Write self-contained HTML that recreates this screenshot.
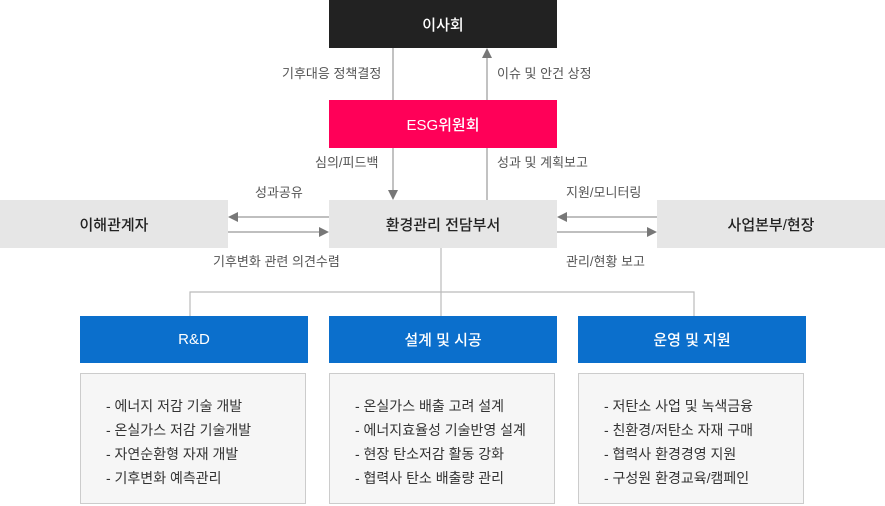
<!DOCTYPE html>
<html><head><meta charset="utf-8"><style>
body{margin:0;width:885px;height:506px;background:#fff;position:relative;overflow:hidden;font-family:"Liberation Sans","Noto Sans CJK KR",sans-serif;}
.b{position:absolute;display:flex;align-items:center;justify-content:center;font-size:15px;font-weight:500;}
.l{position:absolute;font-size:13px;color:#555;white-space:nowrap;line-height:16px;}
.c{position:absolute;top:373px;height:131px;width:226px;background:#f6f6f6;border:1px solid #ccc;box-sizing:border-box;padding-top:20px;padding-left:25px;font-size:14px;color:#333;line-height:24px;}
</style></head><body>
<div class="b" style="left:329px;top:0;width:228px;height:48px;background:#222;color:#fff">이사회</div>
<div class="b" style="left:329px;top:100px;width:228px;height:48px;background:#ff0058;color:#fff">ESG위원회</div>
<div class="b" style="left:329px;top:200px;width:228px;height:48px;background:#e6e6e6;color:#222">환경관리 전담부서</div>
<div class="b" style="left:0;top:200px;width:228px;height:48px;background:#e6e6e6;color:#222">이해관계자</div>
<div class="b" style="left:657px;top:200px;width:228px;height:48px;background:#e6e6e6;color:#222">사업본부/현장</div>
<div class="b" style="left:80px;top:316px;width:228px;height:47px;background:#0b6fcc;color:#fff">R&amp;D</div>
<div class="b" style="left:329px;top:316px;width:228px;height:47px;background:#0b6fcc;color:#fff">설계 및 시공</div>
<div class="b" style="left:578px;top:316px;width:228px;height:47px;background:#0b6fcc;color:#fff">운영 및 지원</div>
<div class="c" style="left:80px">- 에너지 저감 기술 개발<br>- 온실가스 저감 기술개발<br>- 자연순환형 자재 개발<br>- 기후변화 예측관리</div>
<div class="c" style="left:329px">- 온실가스 배출 고려 설계<br>- 에너지효율성 기술반영 설계<br>- 현장 탄소저감 활동 강화<br>- 협력사 탄소 배출량 관리</div>
<div class="c" style="left:578px">- 저탄소 사업 및 녹색금융<br>- 친환경/저탄소 자재 구매<br>- 협력사 환경경영 지원<br>- 구성원 환경교육/캠페인</div>
<svg style="position:absolute;left:0;top:0" width="885" height="506">
<g stroke="#999" stroke-width="1.2" fill="none">
<line x1="393" y1="48" x2="393" y2="100"/>
<line x1="487" y1="58" x2="487" y2="100"/>
<line x1="393" y1="148" x2="393" y2="190"/>
<line x1="487" y1="148" x2="487" y2="200"/>
<line x1="238" y1="217" x2="329" y2="217"/>
<line x1="228" y1="232" x2="319" y2="232"/>
<line x1="567" y1="217" x2="657" y2="217"/>
<line x1="557" y1="232" x2="647" y2="232"/>
</g>
<g fill="#777">
<polygon points="487,48 482,58 492,58"/>
<polygon points="393,200 388,190 398,190"/>
<polygon points="228,217 238,212 238,222"/>
<polygon points="329,232 319,227 319,237"/>
<polygon points="557,217 567,212 567,222"/>
<polygon points="657,232 647,227 647,237"/>
</g>
<g stroke="#bbb" stroke-width="1.2" fill="none">
<polyline points="441,248 441,316"/>
<polyline points="190,316 190,292 694,292 694,316"/>
</g>
</svg>
<div class="l" style="left:282px;top:66px">기후대응 정책결정</div>
<div class="l" style="left:497px;top:66px">이슈 및 안건 상정</div>
<div class="l" style="left:315px;top:155px">심의/피드백</div>
<div class="l" style="left:497px;top:155px">성과 및 계획보고</div>
<div class="l" style="left:255px;top:185px">성과공유</div>
<div class="l" style="left:566px;top:185px">지원/모니터링</div>
<div class="l" style="left:213px;top:254px">기후변화 관련 의견수렴</div>
<div class="l" style="left:566px;top:254px">관리/현황 보고</div>
</body></html>
